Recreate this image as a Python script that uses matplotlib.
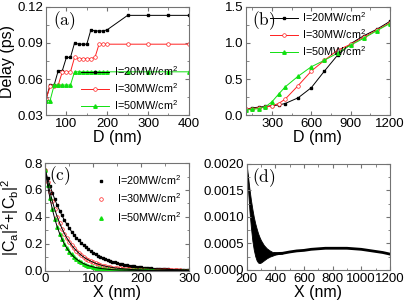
import numpy as np
import matplotlib
matplotlib.use('Agg')
import matplotlib.pyplot as plt
from matplotlib.ticker import MultipleLocator, FormatStrFormatter

plt.rcParams['font.family'] = ['Liberation Sans', 'DejaVu Sans']
plt.rcParams['mathtext.fontset'] = 'custom'
plt.rcParams['mathtext.rm'] = 'Liberation Sans'
plt.rcParams['mathtext.it'] = 'Liberation Sans:italic'
plt.rcParams['mathtext.default'] = 'regular'

labels = ['I=20MW/cm$^2$', 'I=30MW/cm$^2$', 'I=50MW/cm$^2$']
red = '#ff2020'
green = '#10e010'

# (a) delay vs D, small D
D_a = [50, 60, 70, 80, 90, 100, 110, 120, 130, 140, 150, 160, 170, 180, 190, 200, 250, 300, 350, 400]
delay20_a = [0.043, 0.055, 0.055, 0.067, 0.067, 0.078, 0.078, 0.090, 0.089, 0.089,
             0.089, 0.101, 0.100, 0.100, 0.100, 0.101, 0.113, 0.113, 0.113, 0.113]
delay30_a = [0.043, 0.054, 0.054, 0.055, 0.066, 0.066, 0.066, 0.078, 0.077, 0.077,
             0.077, 0.077, 0.078, 0.089, 0.089, 0.089, 0.089, 0.089, 0.089, 0.089]
delay50_a = [0.042, 0.042, 0.055, 0.055, 0.055, 0.055, 0.055, 0.066, 0.066, 0.066,
             0.066, 0.066, 0.066, 0.066, 0.066, 0.066, 0.066, 0.066, 0.066, 0.066]

# (b) delay vs D, large D
D_b = [100, 150, 200, 250, 300, 350, 400, 500, 600, 700, 800, 900, 1000, 1100, 1200]
delay20_b = [0.08, 0.10, 0.11, 0.12, 0.13, 0.14, 0.16, 0.24, 0.38, 0.61, 0.83, 0.99, 1.10, 1.19, 1.30]
delay30_b = [0.08, 0.09, 0.10, 0.11, 0.13, 0.16, 0.22, 0.41, 0.61, 0.76, 0.90, 0.98, 1.08, 1.18, 1.28]
delay50_b = [0.07, 0.08, 0.09, 0.115, 0.185, 0.29, 0.39, 0.54, 0.67, 0.76, 0.86, 0.97, 1.065, 1.17, 1.27]

# (c) |Ca|^2+|Cb|^2 vs X
X_c = np.arange(0, 301, 5)
prob20 = [0.750, 0.688, 0.631, 0.579, 0.531, 0.487, 0.447, 0.410, 0.376, 0.345,
          0.317, 0.290, 0.266, 0.244, 0.224, 0.206, 0.189, 0.173, 0.159, 0.146,
          0.134, 0.123, 0.112, 0.103, 0.095, 0.087, 0.080, 0.073, 0.067, 0.061,
          0.056, 0.052, 0.047, 0.043, 0.040, 0.037, 0.034, 0.031, 0.028, 0.026,
          0.024, 0.022, 0.020, 0.018, 0.017, 0.015, 0.014, 0.013, 0.012, 0.011,
          0.010, 0.009, 0.008, 0.008, 0.007, 0.007, 0.006, 0.006, 0.005, 0.005, 0.004]
prob30 = [0.750, 0.662, 0.584, 0.515, 0.455, 0.401, 0.354, 0.313, 0.276, 0.243,
          0.215, 0.190, 0.167, 0.148, 0.130, 0.115, 0.101, 0.089, 0.079, 0.070,
          0.062, 0.054, 0.048, 0.042, 0.037, 0.033, 0.029, 0.026, 0.023, 0.020,
          0.018, 0.016, 0.014, 0.012, 0.011, 0.009, 0.008, 0.007, 0.006, 0.006,
          0.005, 0.004, 0.004, 0.003, 0.003, 0.003, 0.002, 0.002, 0.002, 0.002,
          0.001, 0.001, 0.001, 0.001, 0.001, 0.001, 0.001, 0.000, 0.000, 0.000, 0.000]
prob50 = [0.750, 0.635, 0.537, 0.455, 0.385, 0.326, 0.276, 0.234, 0.198, 0.167,
          0.142, 0.120, 0.101, 0.086, 0.073, 0.062, 0.052, 0.044, 0.037, 0.032,
          0.027, 0.023, 0.019, 0.016, 0.014, 0.012, 0.010, 0.008, 0.007, 0.006,
          0.005, 0.004, 0.004, 0.003, 0.003, 0.002, 0.002, 0.002, 0.001, 0.001,
          0.001, 0.001, 0.001, 0.001, 0.001, 0.001, 0.000, 0.000, 0.000, 0.000,
          0.000, 0.000, 0.000, 0.000, 0.000, 0.000, 0.000, 0.000, 0.000, 0.000, 0.000]

# (d) oscillating curve: envelope of the fast oscillation, then the smooth tail
X_band = [200, 210, 220, 230, 240, 250, 260, 270, 280, 290, 300, 320, 340, 360, 380, 400, 420, 450]
upper_d = [0.00200, 0.00175, 0.00152, 0.00132, 0.00115, 0.00100, 0.00088, 0.00078, 0.00069,
           0.00062, 0.00056, 0.00047, 0.00041, 0.00037, 0.00034, 0.00033, 0.00032, 0.00032]
lower_d = [0.00200, 0.00150, 0.00110, 0.00080, 0.00055, 0.00038, 0.00026, 0.00018, 0.00014,
           0.00013, 0.00014, 0.00018, 0.00022, 0.00025, 0.00027, 0.00029, 0.00030, 0.00031]
X_line = [400, 450, 500, 550, 600, 650, 700, 750, 800, 850, 900, 950, 1000, 1050, 1100, 1150, 1200]
Y_line = [0.00031, 0.000315, 0.00034, 0.00036, 0.00037, 0.00039, 0.00040, 0.00041, 0.00041,
          0.00041, 0.00041, 0.00040, 0.00039, 0.00037, 0.00035, 0.00033, 0.00030]

fig = plt.figure(figsize=(4.07, 3.02), dpi=100)
ax_a = fig.add_axes([0.113, 0.619, 0.351, 0.358])
ax_b = fig.add_axes([0.604, 0.619, 0.354, 0.358])
ax_c = fig.add_axes([0.111, 0.104, 0.354, 0.356])
ax_d = fig.add_axes([0.606, 0.106, 0.352, 0.351])


def style(ax):
    for s in ax.spines.values():
        s.set_color('0.45')
        s.set_linewidth(0.8)
    ax.tick_params(which='both', direction='in', top=True, right=True,
                   color='0.45', labelsize=9.5, pad=2)
    ax.tick_params(which='major', length=3)
    ax.tick_params(which='minor', length=1.8)


def panel_label(ax, txt, x, y):
    ax.text(x, y, r'$\mathrm{' + txt + '}$', transform=ax.transAxes,
            fontsize=12.5, math_fontfamily='cm', va='center', ha='left')


# panel (a)
ax = ax_a
ax.plot(D_a, delay20_a, '-', color='k', lw=0.7, marker='s', ms=2.0, label=labels[0])
ax.plot(D_a, delay30_a, '-', color=red, lw=0.7, marker='o', ms=2.6, mfc='white', mew=0.5, label=labels[1])
ax.plot(D_a, delay50_a, '-', color=green, lw=0.7, marker='^', ms=2.5, label=labels[2])
ax.set_xlim(50, 400)
ax.set_ylim(0.03, 0.12)
ax.xaxis.set_major_locator(MultipleLocator(100))
ax.xaxis.set_minor_locator(MultipleLocator(50))
ax.yaxis.set_major_locator(MultipleLocator(0.03))
ax.yaxis.set_minor_locator(MultipleLocator(0.015))
ax.set_xlabel('D (nm)', fontsize=11.5, labelpad=0)
ax.set_ylabel('Delay (ps)', fontsize=11.5, labelpad=2)
ax.legend(loc='lower left', bbox_to_anchor=(0.2, -0.03), frameon=False, fontsize=7.8,
          handlelength=2.6, handletextpad=0.4, labelspacing=0.3, borderaxespad=0.2)
panel_label(ax, '(a)', 0.05, 0.87)
style(ax)

# panel (b)
ax = ax_b
ax.plot(D_b, delay20_b, '-', color='k', lw=0.7, marker='s', ms=2.0, label=labels[0])
ax.plot(D_b, delay30_b, '-', color=red, lw=0.7, marker='o', ms=2.6, mfc='white', mew=0.5, label=labels[1])
ax.plot(D_b, delay50_b, '-', color=green, lw=0.7, marker='^', ms=2.5, label=labels[2])
ax.set_xlim(100, 1200)
ax.set_ylim(0, 1.5)
ax.xaxis.set_major_locator(MultipleLocator(300))
ax.xaxis.set_minor_locator(MultipleLocator(150))
ax.yaxis.set_major_locator(MultipleLocator(0.5))
ax.yaxis.set_minor_locator(MultipleLocator(0.25))
ax.yaxis.set_major_formatter(FormatStrFormatter('%.1f'))
ax.set_xlabel('D (nm)', fontsize=11.5, labelpad=0)
ax.legend(loc='upper left', bbox_to_anchor=(0.12, 1.03), frameon=False, fontsize=7.8,
          handlelength=2.6, handletextpad=0.4, labelspacing=0.3, borderaxespad=0.2)
panel_label(ax, '(b)', 0.04, 0.87)
style(ax)

# panel (c)
ax = ax_c
ax.plot(X_c, prob20, ls='none', color='k', marker='s', ms=2.0, label=labels[0])
ax.plot(X_c, prob30, ls='none', color=red, marker='o', ms=2.6, mfc='none', mew=0.5, label=labels[1])
ax.plot(X_c, prob50, ls='none', color=green, marker='^', ms=2.5, label=labels[2])
for p in (prob20, prob30, prob50):
    ax.plot(X_c, p, '-', color='k', lw=0.7)
ax.set_xlim(0, 300)
ax.set_ylim(0, 0.8)
ax.xaxis.set_major_locator(MultipleLocator(100))
ax.xaxis.set_minor_locator(MultipleLocator(50))
ax.yaxis.set_major_locator(MultipleLocator(0.2))
ax.yaxis.set_minor_locator(MultipleLocator(0.1))
ax.yaxis.set_major_formatter(FormatStrFormatter('%.1f'))
ax.set_xlabel('X (nm)', fontsize=11.5, labelpad=0)
ax.set_ylabel('|C$_a$|$^2$+|C$_b$|$^2$', fontsize=11.5, labelpad=2)
ax.legend(loc='upper left', bbox_to_anchor=(0.3, 0.97), frameon=False, fontsize=7.8,
          handlelength=1.2, handletextpad=0.8, labelspacing=0.45, borderaxespad=0.2)
panel_label(ax, '(c)', 0.03, 0.88)
style(ax)

# panel (d)
ax = ax_d
ax.fill_between(X_band, lower_d, upper_d, color='k', lw=0.6, edgecolor='k')
ax.plot(X_line, Y_line, '-', color='k', lw=2.0)
ax.set_xlim(200, 1200)
ax.set_ylim(0, 0.002)
ax.xaxis.set_major_locator(MultipleLocator(200))
ax.xaxis.set_minor_locator(MultipleLocator(100))
ax.yaxis.set_major_locator(MultipleLocator(0.0005))
ax.yaxis.set_minor_locator(MultipleLocator(0.00025))
ax.yaxis.set_major_formatter(FormatStrFormatter('%.4f'))
ax.set_xlabel('X (nm)', fontsize=11.5, labelpad=0)
panel_label(ax, '(d)', 0.035, 0.87)
style(ax)

fig.savefig('out.png', dpi=100)
